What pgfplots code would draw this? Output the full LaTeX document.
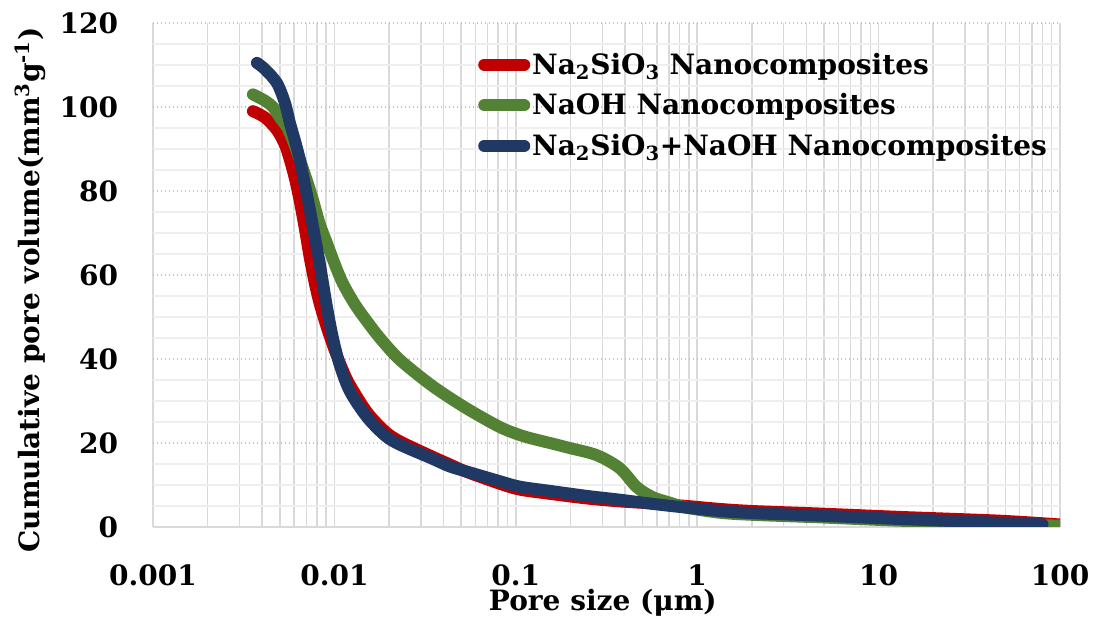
\documentclass[border=0pt]{standalone}
\usepackage{fontspec}
\setmainfont{DejaVu Serif}
\usepackage{pgfplots}
\pgfplotsset{compat=1.18}
\definecolor{cred}{HTML}{C00000}
\definecolor{cgreen}{HTML}{548235}
\definecolor{cblue}{HTML}{203864}
\definecolor{gridc}{HTML}{D9D9D9}
\definecolor{gridm}{HTML}{EFEFEF}
\newcommand{\ff}{\bfseries\fontsize{21}{25}\selectfont}
\begin{document}
\begin{tikzpicture}
\begin{axis}[
  at={(0,0)}, anchor=south west,
  scale only axis, width=680.25pt, height=378pt,
  xmode=log, log basis x=10,
  xmin=0.001, xmax=100, ymin=0, ymax=120,
  xtick={0.001,0.01,0.1,1,10,100},
  xticklabels={0.001,0.01,0.1,1,10,100},
  minor xtick={0.002,0.003,0.004,0.005,0.006,0.007,0.008,0.009,
    0.02,0.03,0.04,0.05,0.06,0.07,0.08,0.09,
    0.2,0.3,0.4,0.5,0.6,0.7,0.8,0.9,
    2,3,4,5,6,7,8,9,20,30,40,50,60,70,80,90},
  ytick={0,20,40,60,80,100,120},
  yticklabels={0,20,40,60,80,100,120},
  minor ytick={5,10,15,25,30,35,45,50,55,65,70,75,85,90,95,105,110,115},
  /pgf/number format/assume math mode=true,
  tick style={draw=none},
  xmajorgrids, xminorgrids, ymajorgrids, yminorgrids,
  major x grid style={draw=gridc, line width=1.1pt},
  minor x grid style={draw=gridc, line width=1.1pt},
  major y grid style={draw=gridc!90!black, line width=1pt, dotted},
  minor y grid style={draw=gridm, line width=1.2pt},
  axis x line*=bottom, axis y line*=left,
  x axis line style={draw=gridc, line width=1.5pt, -},
  y axis line style={draw=none},
  xticklabel style={font=\ff, anchor=center, yshift=-36pt},
  yticklabel style={font=\ff, anchor=east, inner sep=0pt, xshift=-26pt},
  xlabel={Pore size (μm)},
  ylabel={Cumulative pore volume(mm\textsuperscript{3}g\textsuperscript{-1})},
  every axis x label/.style={at={(axis description cs:0.496,-0.151)}, anchor=center, font=\ff},
  every axis y label/.style={at={(axis description cs:-0.1356,0.47)}, anchor=center, rotate=90, font=\ff},
  legend style={draw=none, fill=none, at={(rel axis cs:0.3583,0.945)}, anchor=north west,
    font=\ff, row sep=10pt, inner sep=0pt, nodes={inner sep=1.5pt}},
  legend cell align=left,
  legend image code/.code={\draw[line width=9pt, line cap=round] (4.5pt,0pt) -- (34.5pt,0pt);},
  every axis plot/.append style={line width=9pt, line cap=round, line join=round, smooth, tension=0.5},
]
\addplot[cred] coordinates {
(0.003556,99) (0.004141,97.5) (0.004823,94.5) (0.005337,91) (0.005686,87.4)
(0.006058,83) (0.006455,77.5) (0.006878,71) (0.007328,64) (0.007809,58)
(0.008321,53) (0.009093,47.5) (0.010064,42) (0.011138,37.3) (0.012174,33.8)
(0.015105,27.4) (0.018975,22.8) (0.022956,20.4) (0.034890,16.7) (0.043288,14.9)
(0.053703,13.1) (0.081611,10.3) (0.10520,8.9) (0.15392,7.9) (0.24619,6.8)
(0.37411,6.1) (0.56866,5.6) (0.87514,5.0) (1.3305,4.3) (2.0226,3.8)
(4.7307,3.2) (13.054,2.4) (46.416,1.5) (99.36,0.6)
};
\addlegendentry{Na\textsubscript{2}SiO\textsubscript{3} Nanocomposites}
\addplot[cgreen] coordinates {
(0.003556,103) (0.004141,101.5) (0.004584,100) (0.005009,97.5) (0.005474,95.2)
(0.005906,92) (0.006455,87.4) (0.007054,82.5) (0.007613,77.9) (0.008321,72)
(0.009093,67.6) (0.010064,62.5) (0.011138,58) (0.012972,53) (0.015105,49)
(0.017811,45) (0.022956,39.8) (0.034890,33.5) (0.053703,28.2) (0.081611,23.8)
(0.10520,21.9) (0.12408,21.0) (0.15392,20) (0.19841,18.8) (0.27940,17.1)
(0.37411,14) (0.46416,9.5) (0.56866,7.1) (0.70552,5.8) (0.87514,4.6)
(1.3305,3.4) (2.0226,2.9) (4.7307,2.3) (13.054,1.5) (46.416,0.8) (99.36,0.3)
};
\addlegendentry{NaOH Nanocomposites}
\addplot[cblue] coordinates {
(0.003741,110.5) (0.004141,109) (0.004823,105.7) (0.005337,101) (0.005686,96.2)
(0.006058,92) (0.006455,87.4) (0.006878,81.5) (0.007328,75.5) (0.007809,69)
(0.008321,62.5) (0.009093,52.4) (0.009811,45) (0.010723,38.5) (0.012174,32.3)
(0.015105,26.2) (0.018975,21.8) (0.022956,19.6) (0.034890,16.2) (0.043288,14.4)
(0.053703,13.2) (0.081611,10.9) (0.10520,9.6) (0.15392,8.6) (0.24619,7.4)
(0.37411,6.5) (0.56866,5.5) (0.87514,4.6) (1.3305,3.8) (2.0226,3.3)
(4.7307,2.7) (13.054,1.9) (46.416,1.0) (80.12,0.6)
};
\addlegendentry{Na\textsubscript{2}SiO\textsubscript{3}+NaOH Nanocomposites}
\end{axis}
\pgfresetboundingbox
\useasboundingbox (-114.75pt,-72pt) rectangle (708.75pt,395.25pt);
\end{tikzpicture}
\end{document}
